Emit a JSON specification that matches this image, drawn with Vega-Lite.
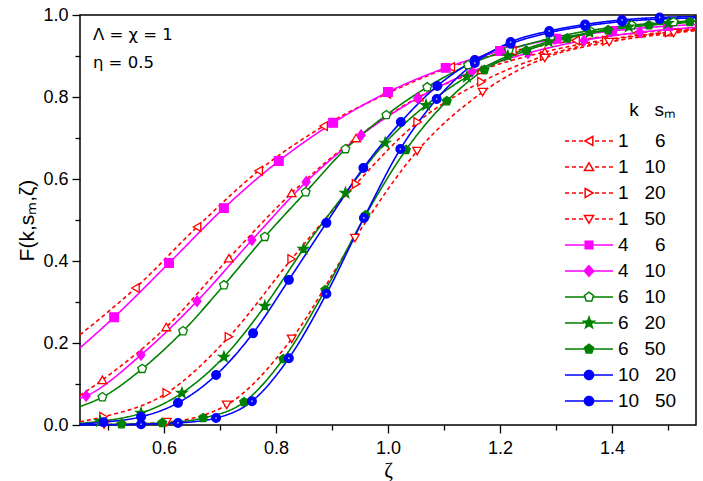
{
  "$schema": "https://vega.github.io/schema/vega-lite/v6.json",
  "width": 616,
  "height": 410,
  "autosize": {"type": "none"},
  "padding": {"left": 80, "top": 15, "right": 7, "bottom": 56},
  "config": {
    "font": "Liberation Sans",
    "view": {"stroke": "#000", "strokeWidth": 1.5},
    "axis": {"domain": false, "grid": false, "labelFontSize": 18, "labelColor": "#000", "tickColor": "#000", "tickWidth": 1.3, "labelFont": "Liberation Sans", "titleFontWeight": "normal", "titleColor": "#000", "labelOverlap": false, "labelFlush": false},
    "legend": {"orient": "none", "legendX": 496, "legendY": 86, "titleAnchor": "end", "titleFontSize": 19, "titleFontWeight": "normal", "titleColor": "#000", "titleFont": "Liberation Sans", "titlePadding": 8, "labelFontSize": 19, "labelFont": "Liberation Sans", "labelColor": "#000", "labelOffset": 16, "rowPadding": 3, "symbolSize": 576, "symbolStrokeWidth": 1.5, "symbolOpacity": 1}
  },
  "resolve": {"axis": {"x": "independent", "y": "independent"}},
  "datasets": {
    "curves": [
      {"series": "1 6", "x": 0.45, "y": 0.22}, {"series": "1 6", "x": 0.549, "y": 0.334}, {"series": "1 6", "x": 0.659, "y": 0.483}, {"series": "1 6", "x": 0.769, "y": 0.62}, {"series": "1 6", "x": 0.885, "y": 0.729}, {"series": "1 6", "x": 0.998, "y": 0.808}, {"series": "1 6", "x": 1.112, "y": 0.873}, {"series": "1 6", "x": 1.222, "y": 0.912}, {"series": "1 6", "x": 1.335, "y": 0.938}, {"series": "1 6", "x": 1.445, "y": 0.956}, {"series": "1 6", "x": 1.55, "y": 0.968},
      {"series": "1 10", "x": 0.45, "y": 0.072}, {"series": "1 10", "x": 0.49, "y": 0.11}, {"series": "1 10", "x": 0.604, "y": 0.239}, {"series": "1 10", "x": 0.716, "y": 0.407}, {"series": "1 10", "x": 0.828, "y": 0.566}, {"series": "1 10", "x": 0.943, "y": 0.7}, {"series": "1 10", "x": 1.055, "y": 0.8}, {"series": "1 10", "x": 1.167, "y": 0.866}, {"series": "1 10", "x": 1.28, "y": 0.91}, {"series": "1 10", "x": 1.39, "y": 0.94}, {"series": "1 10", "x": 1.5, "y": 0.958}, {"series": "1 10", "x": 1.55, "y": 0.965},
      {"series": "1 20", "x": 0.45, "y": 0.008}, {"series": "1 20", "x": 0.492, "y": 0.02}, {"series": "1 20", "x": 0.605, "y": 0.078}, {"series": "1 20", "x": 0.716, "y": 0.215}, {"series": "1 20", "x": 0.828, "y": 0.405}, {"series": "1 20", "x": 0.943, "y": 0.588}, {"series": "1 20", "x": 1.053, "y": 0.739}, {"series": "1 20", "x": 1.167, "y": 0.837}, {"series": "1 20", "x": 1.279, "y": 0.9}, {"series": "1 20", "x": 1.39, "y": 0.937}, {"series": "1 20", "x": 1.502, "y": 0.958}, {"series": "1 20", "x": 1.55, "y": 0.965},
      {"series": "1 50", "x": 0.45, "y": 0.0}, {"series": "1 50", "x": 0.493, "y": 0.001}, {"series": "1 50", "x": 0.605, "y": 0.007}, {"series": "1 50", "x": 0.712, "y": 0.049}, {"series": "1 50", "x": 0.828, "y": 0.21}, {"series": "1 50", "x": 0.941, "y": 0.456}, {"series": "1 50", "x": 1.052, "y": 0.668}, {"series": "1 50", "x": 1.169, "y": 0.812}, {"series": "1 50", "x": 1.28, "y": 0.895}, {"series": "1 50", "x": 1.395, "y": 0.934}, {"series": "1 50", "x": 1.51, "y": 0.956}, {"series": "1 50", "x": 1.55, "y": 0.962},
      {"series": "4 6", "x": 0.45, "y": 0.188}, {"series": "4 6", "x": 0.511, "y": 0.263}, {"series": "4 6", "x": 0.609, "y": 0.395}, {"series": "4 6", "x": 0.707, "y": 0.529}, {"series": "4 6", "x": 0.805, "y": 0.644}, {"series": "4 6", "x": 0.902, "y": 0.737}, {"series": "4 6", "x": 1.0, "y": 0.812}, {"series": "4 6", "x": 1.103, "y": 0.871}, {"series": "4 6", "x": 1.2, "y": 0.912}, {"series": "4 6", "x": 1.3, "y": 0.942}, {"series": "4 6", "x": 1.4, "y": 0.961}, {"series": "4 6", "x": 1.5, "y": 0.973}, {"series": "4 6", "x": 1.55, "y": 0.977},
      {"series": "4 10", "x": 0.45, "y": 0.065}, {"series": "4 10", "x": 0.461, "y": 0.071}, {"series": "4 10", "x": 0.559, "y": 0.171}, {"series": "4 10", "x": 0.659, "y": 0.302}, {"series": "4 10", "x": 0.757, "y": 0.451}, {"series": "4 10", "x": 0.854, "y": 0.593}, {"series": "4 10", "x": 0.952, "y": 0.707}, {"series": "4 10", "x": 1.053, "y": 0.797}, {"series": "4 10", "x": 1.15, "y": 0.862}, {"series": "4 10", "x": 1.25, "y": 0.907}, {"series": "4 10", "x": 1.35, "y": 0.938}, {"series": "4 10", "x": 1.45, "y": 0.958}, {"series": "4 10", "x": 1.55, "y": 0.97},
      {"series": "6 10", "x": 0.45, "y": 0.045}, {"series": "6 10", "x": 0.49, "y": 0.068}, {"series": "6 10", "x": 0.561, "y": 0.137}, {"series": "6 10", "x": 0.634, "y": 0.229}, {"series": "6 10", "x": 0.707, "y": 0.341}, {"series": "6 10", "x": 0.78, "y": 0.459}, {"series": "6 10", "x": 0.853, "y": 0.568}, {"series": "6 10", "x": 0.924, "y": 0.673}, {"series": "6 10", "x": 0.997, "y": 0.756}, {"series": "6 10", "x": 1.07, "y": 0.824}, {"series": "6 10", "x": 1.143, "y": 0.878}, {"series": "6 10", "x": 1.216, "y": 0.915}, {"series": "6 10", "x": 1.29, "y": 0.943}, {"series": "6 10", "x": 1.36, "y": 0.962}, {"series": "6 10", "x": 1.435, "y": 0.975}, {"series": "6 10", "x": 1.51, "y": 0.983}, {"series": "6 10", "x": 1.55, "y": 0.986},
      {"series": "6 20", "x": 0.45, "y": 0.004}, {"series": "6 20", "x": 0.486, "y": 0.009}, {"series": "6 20", "x": 0.559, "y": 0.029}, {"series": "6 20", "x": 0.632, "y": 0.078}, {"series": "6 20", "x": 0.707, "y": 0.166}, {"series": "6 20", "x": 0.78, "y": 0.29}, {"series": "6 20", "x": 0.849, "y": 0.429}, {"series": "6 20", "x": 0.924, "y": 0.566}, {"series": "6 20", "x": 0.995, "y": 0.688}, {"series": "6 20", "x": 1.068, "y": 0.78}, {"series": "6 20", "x": 1.141, "y": 0.849}, {"series": "6 20", "x": 1.214, "y": 0.9}, {"series": "6 20", "x": 1.287, "y": 0.935}, {"series": "6 20", "x": 1.36, "y": 0.957}, {"series": "6 20", "x": 1.43, "y": 0.971}, {"series": "6 20", "x": 1.5, "y": 0.98}, {"series": "6 20", "x": 1.55, "y": 0.985},
      {"series": "6 50", "x": 0.45, "y": 0.0}, {"series": "6 50", "x": 0.524, "y": 0.002}, {"series": "6 50", "x": 0.597, "y": 0.005}, {"series": "6 50", "x": 0.67, "y": 0.017}, {"series": "6 50", "x": 0.743, "y": 0.056}, {"series": "6 50", "x": 0.813, "y": 0.161}, {"series": "6 50", "x": 0.888, "y": 0.329}, {"series": "6 50", "x": 0.96, "y": 0.512}, {"series": "6 50", "x": 1.032, "y": 0.671}, {"series": "6 50", "x": 1.105, "y": 0.79}, {"series": "6 50", "x": 1.172, "y": 0.866}, {"series": "6 50", "x": 1.247, "y": 0.913}, {"series": "6 50", "x": 1.32, "y": 0.943}, {"series": "6 50", "x": 1.393, "y": 0.963}, {"series": "6 50", "x": 1.466, "y": 0.975}, {"series": "6 50", "x": 1.539, "y": 0.983}, {"series": "6 50", "x": 1.55, "y": 0.986},
      {"series": "10 20", "x": 0.45, "y": 0.002}, {"series": "10 20", "x": 0.492, "y": 0.007}, {"series": "10 20", "x": 0.559, "y": 0.02}, {"series": "10 20", "x": 0.625, "y": 0.054}, {"series": "10 20", "x": 0.693, "y": 0.122}, {"series": "10 20", "x": 0.759, "y": 0.224}, {"series": "10 20", "x": 0.823, "y": 0.354}, {"series": "10 20", "x": 0.89, "y": 0.493}, {"series": "10 20", "x": 0.956, "y": 0.627}, {"series": "10 20", "x": 1.023, "y": 0.739}, {"series": "10 20", "x": 1.088, "y": 0.827}, {"series": "10 20", "x": 1.155, "y": 0.89}, {"series": "10 20", "x": 1.219, "y": 0.93}, {"series": "10 20", "x": 1.288, "y": 0.957}, {"series": "10 20", "x": 1.352, "y": 0.973}, {"series": "10 20", "x": 1.418, "y": 0.984}, {"series": "10 20", "x": 1.485, "y": 0.99}, {"series": "10 20", "x": 1.55, "y": 0.993},
      {"series": "10 50", "x": 0.45, "y": 0.0}, {"series": "10 50", "x": 0.559, "y": 0.002}, {"series": "10 50", "x": 0.625, "y": 0.005}, {"series": "10 50", "x": 0.693, "y": 0.017}, {"series": "10 50", "x": 0.757, "y": 0.058}, {"series": "10 50", "x": 0.823, "y": 0.163}, {"series": "10 50", "x": 0.89, "y": 0.32}, {"series": "10 50", "x": 0.957, "y": 0.505}, {"series": "10 50", "x": 1.022, "y": 0.673}, {"series": "10 50", "x": 1.087, "y": 0.795}, {"series": "10 50", "x": 1.155, "y": 0.883}, {"series": "10 50", "x": 1.219, "y": 0.934}, {"series": "10 50", "x": 1.288, "y": 0.961}, {"series": "10 50", "x": 1.352, "y": 0.977}, {"series": "10 50", "x": 1.418, "y": 0.988}, {"series": "10 50", "x": 1.485, "y": 0.994}, {"series": "10 50", "x": 1.55, "y": 0.996}
    ]
  },
  "layer": [
    {
      "data": {"name": "curves"},
      "mark": {"type": "line", "interpolate": "monotone", "strokeWidth": 1.6},
      "encoding": {
        "x": {"field": "x", "type": "quantitative", "scale": {"domain": [0.45, 1.55], "nice": false, "zero": false},
          "axis": {"orient": "bottom", "values": [0.6, 0.8, 1.0, 1.2, 1.4], "format": ".1f", "tickSize": 8, "labelPadding": 6, "title": "ζ", "titleFont": "Liberation Serif", "titleFontSize": 21, "titlePadding": 2}},
        "y": {"field": "y", "type": "quantitative", "scale": {"domain": [0, 1], "nice": false},
          "axis": {"orient": "left", "values": [0, 0.2, 0.4, 0.6, 0.8, 1.0], "format": ".1f", "tickSize": 8, "labelPadding": 4, "title": "F(k,s\u2098,\u03b6)", "titleFontSize": 21, "titlePadding": 5}},
        "stroke": {"field": "series", "type": "nominal", "scale": {"domain": ["1 6", "1 10", "1 20", "1 50", "4 6", "4 10", "6 10", "6 20", "6 50", "10 20", "10 50"], "range": ["#FF0000", "#FF0000", "#FF0000", "#FF0000", "#FF00FF", "#FF00FF", "#008000", "#008000", "#008000", "#0000FF", "#0000FF"]},
          "legend": {"title": "k\u00a0\u00a0\u00a0s\u2098", "labelExpr": "['\u00a0\u00a01\u00a0\u00a0\u00a0\u00a0\u00a06','\u00a0\u00a01\u00a0\u00a0\u00a010','\u00a0\u00a01\u00a0\u00a0\u00a020','\u00a0\u00a01\u00a0\u00a0\u00a050','\u00a0\u00a04\u00a0\u00a0\u00a0\u00a0\u00a06','\u00a0\u00a04\u00a0\u00a0\u00a010','\u00a0\u00a06\u00a0\u00a0\u00a010','\u00a0\u00a06\u00a0\u00a0\u00a020','\u00a0\u00a06\u00a0\u00a0\u00a050','10\u00a0\u00a0\u00a020','10\u00a0\u00a0\u00a050'][indexof(['1 6','1 10','1 20','1 50','4 6','4 10','6 10','6 20','6 50','10 20','10 50'], datum.value)]",
            "encode": {"symbols": {"update": {
              "shape": {"signal": "['M-2,0H-1.66M-1.42,0H-1.08M-0.84,0H-0.5M0.5,0H0.84M1.08,0H1.42M1.66,0H2M-0.34,0L0.32,-0.38L0.32,0.38Z','M-2,0H-1.66M-1.42,0H-1.08M-0.84,0H-0.5M0.5,0H0.84M1.08,0H1.42M1.66,0H2M0,-0.36L0.38,0.3L-0.38,0.3Z','M-2,0H-1.66M-1.42,0H-1.08M-0.84,0H-0.5M0.5,0H0.84M1.08,0H1.42M1.66,0H2M0.34,0L-0.32,-0.38L-0.32,0.38Z','M-2,0H-1.66M-1.42,0H-1.08M-0.84,0H-0.5M0.5,0H0.84M1.08,0H1.42M1.66,0H2M0,0.36L0.38,-0.3L-0.38,-0.3Z','M-2,0H-0.4M0.4,0H2M-0.32,-0.32H0.32V0.32H-0.32Z','M-2,0H-0.4M0.4,0H2M0,-0.44L0.4,0L0,0.44L-0.4,0Z','M-2,0H-0.4M0.4,0H2M0,-0.4L0.38,-0.124L0.236,0.324L-0.236,0.324L-0.38,-0.124Z','M-2,0H-0.4M0.4,0H2M0,-0.48L0.118,-0.162L0.456,-0.148L0.19,0.062L0.282,0.388L0,0.2L-0.282,0.388L-0.19,0.062L-0.456,-0.148L-0.118,-0.162Z','M-2,0H-0.4M0.4,0H2M0,-0.4L0.38,-0.124L0.236,0.324L-0.236,0.324L-0.38,-0.124Z','M-2,0H-0.4M0.4,0H2M0.38,0A0.38,0.38,0,1,1,-0.38,0A0.38,0.38,0,1,1,0.38,0Z','M-2,0H-0.4M0.4,0H2M0.38,0A0.38,0.38,0,1,1,-0.38,0A0.38,0.38,0,1,1,0.38,0Z'][indexof(['1 6','1 10','1 20','1 50','4 6','4 10','6 10','6 20','6 50','10 20','10 50'], datum.value)]"},
              "fill": {"signal": "['white','white','white','white','#FF00FF','#FF00FF','white','#008000','#008000','#0000FF','#0000FF'][indexof(['1 6','1 10','1 20','1 50','4 6','4 10','6 10','6 20','6 50','10 20','10 50'], datum.value)]"},
              "strokeDash": {"value": [1, 0]},
              "opacity": {"value": 1}
            }}}}},
        "strokeDash": {"field": "series", "type": "nominal", "scale": {"domain": ["10 50", "10 20", "6 50", "6 20", "6 10", "4 10", "4 6", "1 50", "1 20", "1 10", "1 6"], "range": [[1, 0], [1, 0], [1, 0], [1, 0], [1, 0], [1, 0], [1, 0], [4, 3], [4, 3], [4, 3], [4, 3]]}, "legend": null}
      }
    },
    {
      "data": {"name": "curves"},
      "transform": [{"filter": "datum.x > 0.451 && datum.x < 1.549"}],
      "mark": {"type": "point", "filled": true, "size": 75, "strokeWidth": 1.3, "opacity": 1},
      "encoding": {
        "x": {"field": "x", "type": "quantitative", "axis": {"orient": "bottom", "values": [0.5, 0.7, 0.9, 1.1, 1.3, 1.5], "labels": false, "tickSize": 5, "title": null}},
        "y": {"field": "y", "type": "quantitative", "axis": {"orient": "left", "values": [0.1, 0.3, 0.5, 0.7, 0.9], "labels": false, "tickSize": 5, "title": null}},
        "stroke": {"field": "series", "type": "nominal",
          "legend": {"title": "k\u00a0\u00a0\u00a0s\u2098", "labelExpr": "['\u00a0\u00a01\u00a0\u00a0\u00a0\u00a0\u00a06','\u00a0\u00a01\u00a0\u00a0\u00a010','\u00a0\u00a01\u00a0\u00a0\u00a020','\u00a0\u00a01\u00a0\u00a0\u00a050','\u00a0\u00a04\u00a0\u00a0\u00a0\u00a0\u00a06','\u00a0\u00a04\u00a0\u00a0\u00a010','\u00a0\u00a06\u00a0\u00a0\u00a010','\u00a0\u00a06\u00a0\u00a0\u00a020','\u00a0\u00a06\u00a0\u00a0\u00a050','10\u00a0\u00a0\u00a020','10\u00a0\u00a0\u00a050'][indexof(['1 6','1 10','1 20','1 50','4 6','4 10','6 10','6 20','6 50','10 20','10 50'], datum.value)]",
            "encode": {"symbols": {"update": {
              "shape": {"signal": "['M-2,0H-1.66M-1.42,0H-1.08M-0.84,0H-0.5M0.5,0H0.84M1.08,0H1.42M1.66,0H2M-0.34,0L0.32,-0.38L0.32,0.38Z','M-2,0H-1.66M-1.42,0H-1.08M-0.84,0H-0.5M0.5,0H0.84M1.08,0H1.42M1.66,0H2M0,-0.36L0.38,0.3L-0.38,0.3Z','M-2,0H-1.66M-1.42,0H-1.08M-0.84,0H-0.5M0.5,0H0.84M1.08,0H1.42M1.66,0H2M0.34,0L-0.32,-0.38L-0.32,0.38Z','M-2,0H-1.66M-1.42,0H-1.08M-0.84,0H-0.5M0.5,0H0.84M1.08,0H1.42M1.66,0H2M0,0.36L0.38,-0.3L-0.38,-0.3Z','M-2,0H-0.4M0.4,0H2M-0.32,-0.32H0.32V0.32H-0.32Z','M-2,0H-0.4M0.4,0H2M0,-0.44L0.4,0L0,0.44L-0.4,0Z','M-2,0H-0.4M0.4,0H2M0,-0.4L0.38,-0.124L0.236,0.324L-0.236,0.324L-0.38,-0.124Z','M-2,0H-0.4M0.4,0H2M0,-0.48L0.118,-0.162L0.456,-0.148L0.19,0.062L0.282,0.388L0,0.2L-0.282,0.388L-0.19,0.062L-0.456,-0.148L-0.118,-0.162Z','M-2,0H-0.4M0.4,0H2M0,-0.4L0.38,-0.124L0.236,0.324L-0.236,0.324L-0.38,-0.124Z','M-2,0H-0.4M0.4,0H2M0.38,0A0.38,0.38,0,1,1,-0.38,0A0.38,0.38,0,1,1,0.38,0Z','M-2,0H-0.4M0.4,0H2M0.38,0A0.38,0.38,0,1,1,-0.38,0A0.38,0.38,0,1,1,0.38,0Z'][indexof(['1 6','1 10','1 20','1 50','4 6','4 10','6 10','6 20','6 50','10 20','10 50'], datum.value)]"},
              "fill": {"signal": "['white','white','white','white','#FF00FF','#FF00FF','white','#008000','#008000','#0000FF','#0000FF'][indexof(['1 6','1 10','1 20','1 50','4 6','4 10','6 10','6 20','6 50','10 20','10 50'], datum.value)]"},
              "strokeDash": {"value": [1, 0]},
              "opacity": {"value": 1}
            }}}}},
        "fill": {"field": "series", "type": "nominal", "scale": {"domain": ["10 50", "10 20", "6 50", "6 20", "6 10", "4 10", "4 6", "1 50", "1 20", "1 10", "1 6"], "range": ["#0000FF", "#0000FF", "#008000", "#008000", "white", "#FF00FF", "#FF00FF", "white", "white", "white", "white"]}, "legend": null},
        "shape": {"field": "series", "type": "nominal", "scale": {"domain": ["10 50", "10 20", "6 50", "6 20", "6 10", "4 10", "4 6", "1 50", "1 20", "1 10", "1 6"], "range": ["circle", "circle", "M0,-1.05L1,-0.325L0.618,0.85L-0.618,0.85L-1,-0.325Z", "M0,-1.25L0.294,-0.405L1.189,-0.386L0.476,0.155L0.735,1.011L0,0.5L-0.735,1.011L-0.476,0.155L-1.189,-0.386L-0.294,-0.405Z", "M0,-1.05L1,-0.325L0.618,0.85L-0.618,0.85L-1,-0.325Z", "M0,-1.2L0.9,0L0,1.2L-0.9,0Z", "square", "triangle-down", "triangle-right", "triangle-up", "triangle-left"]}, "legend": null}
      }
    },
    {
      "data": {"name": "curves"},
      "transform": [{"filter": "datum.series == '10 50' && datum.x > 0.451 && datum.x < 1.549"}],
      "mark": {"type": "point", "filled": true, "size": 3, "fill": "#A9C0FF", "strokeWidth": 0, "opacity": 1},
      "encoding": {
        "x": {"field": "x", "type": "quantitative", "axis": null},
        "y": {"field": "y", "type": "quantitative", "axis": null}
      }
    },
    {
      "data": {"values": [{"note": "notes"}]},
      "mark": {"type": "text", "align": "left", "baseline": "middle", "fontSize": 16.5, "font": "DejaVu Sans", "lineHeight": 28, "color": "#000"},
      "encoding": {
        "x": {"datum": 0.473, "type": "quantitative", "axis": null},
        "y": {"datum": 0.952, "type": "quantitative", "axis": null},
        "text": {"value": ["Λ = χ = 1", "η = 0.5"]}
      }
    }
  ]
}
